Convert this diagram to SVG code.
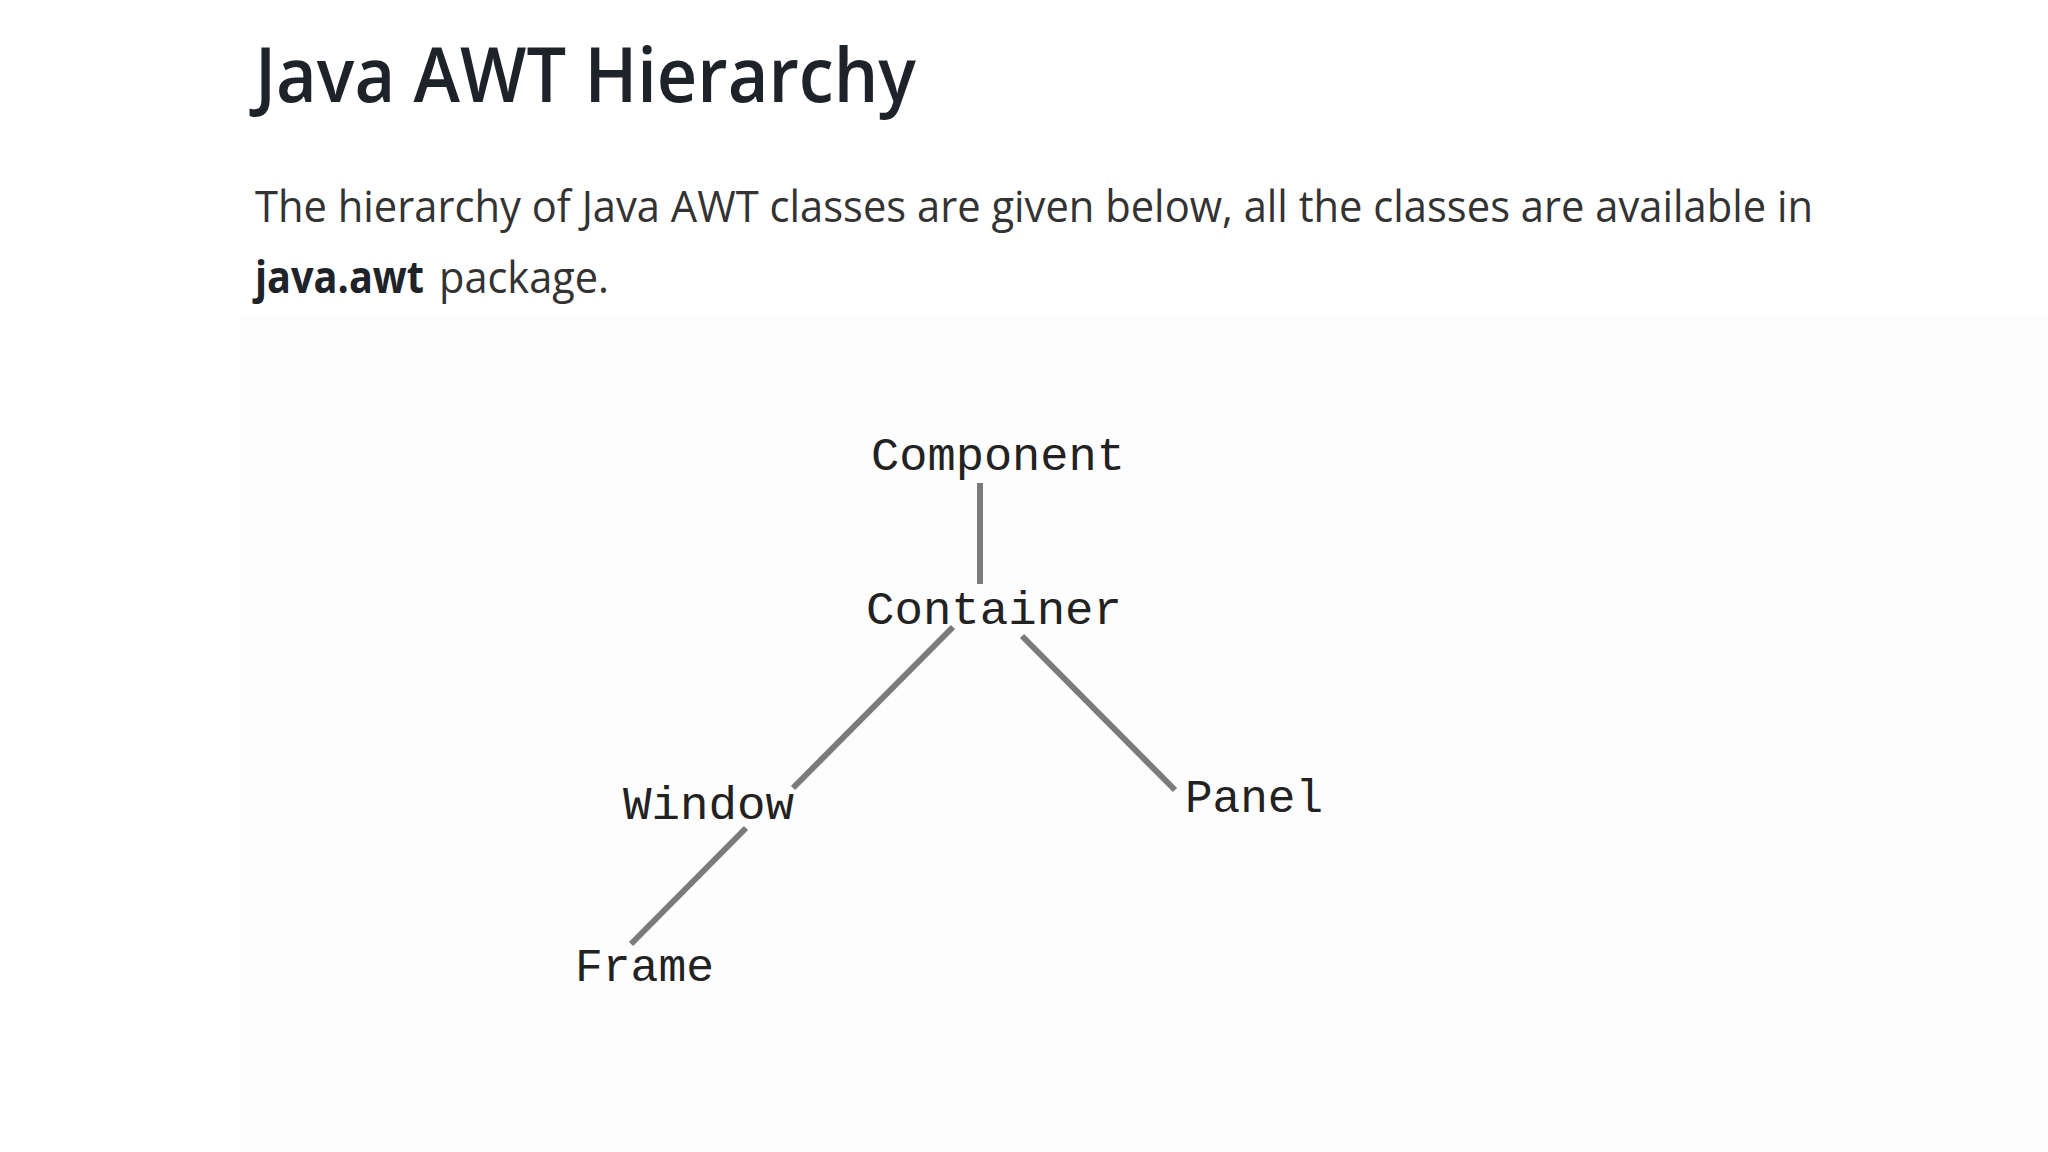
<svg xmlns="http://www.w3.org/2000/svg" width="2048" height="1152" viewBox="0 0 2048 1152">
<style>
.title{font-family:"Open Sans","Noto Sans","Liberation Sans",sans-serif;font-size:76px;font-weight:600;fill:#1e2229;}
.para{font-family:"Open Sans","Noto Sans","Liberation Sans",sans-serif;font-size:44px;fill:#333;}
.bold{font-weight:bold;fill:#1e2229;}
.node{font-family:"Liberation Mono","Courier New",monospace;font-size:47px;fill:#222;}
.edge{stroke:#7b7b7b;stroke-width:6;fill:none;}
</style>
<rect width="2048" height="1152" fill="#ffffff"/>
<rect x="240" y="315" width="1808" height="837" fill="#fdfdfd"/>
<text class="title" x="255" y="102" textLength="661" lengthAdjust="spacingAndGlyphs">Java AWT Hierarchy</text>
<text class="para" x="255" y="222" textLength="1558" lengthAdjust="spacingAndGlyphs">The hierarchy of Java AWT classes are given below, all the classes are available in</text>
<text class="para bold" x="255" y="293" textLength="169" lengthAdjust="spacingAndGlyphs">java.awt</text>
<text class="para" x="439" y="293" textLength="170" lengthAdjust="spacingAndGlyphs">package.</text>
<g id="connectors">
<line class="edge" x1="980" y1="483" x2="980" y2="584"/>
<line class="edge" x1="953" y1="627" x2="793" y2="788"/>
<line class="edge" x1="1022" y1="636" x2="1175" y2="790"/>
<line class="edge" x1="746" y1="828" x2="631" y2="944"/>
</g>
<g id="node-component"><text class="node" x="871" y="470" textLength="254" lengthAdjust="spacingAndGlyphs">Component</text></g>
<g id="node-container"><text class="node" x="866" y="624" textLength="256" lengthAdjust="spacingAndGlyphs">Container</text></g>
<g id="node-window"><text class="node" x="623" y="819" textLength="171" lengthAdjust="spacingAndGlyphs">Window</text></g>
<g id="node-panel"><text class="node" x="1185" y="812" textLength="138" lengthAdjust="spacingAndGlyphs">Panel</text></g>
<g id="node-frame"><text class="node" x="575" y="981" textLength="139" lengthAdjust="spacingAndGlyphs">Frame</text></g>
</svg>
